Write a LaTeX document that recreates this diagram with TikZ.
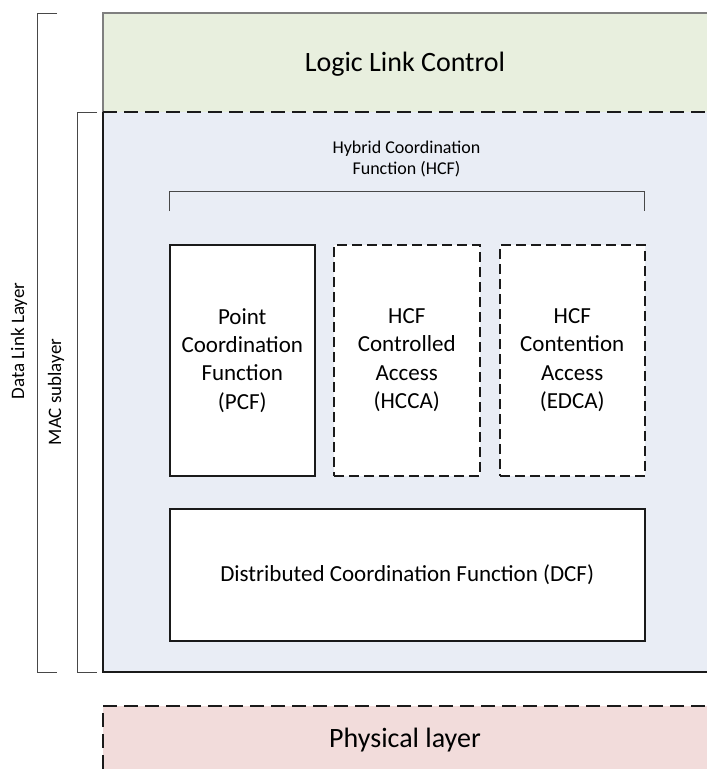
\documentclass[tikz,border=0pt]{standalone}
\usepackage{fontspec}
\setmainfont{Carlito}
\definecolor{llcfill}{HTML}{E8EFDE}
\definecolor{macfill}{HTML}{E9EDF5}
\definecolor{phyfill}{HTML}{F2DCDB}
\definecolor{edge}{HTML}{1A1A1A}
\definecolor{rule}{HTML}{7F7F7F}
\tikzset{
  layerfill/.style={inner sep=0pt, outer sep=0pt, anchor=north west, draw=none},
  layerdash/.style={draw=edge, line width=1.5pt, dash pattern=on 14pt off 7pt},
  funcbox/.style={draw=edge, line width=1.5pt, fill=white, inner sep=0pt,
    anchor=north west, align=center, font=\fontsize{23}{28.3}\selectfont},
  dashbox/.style={funcbox, dash pattern=on 10pt off 5pt},
  bracketline/.style={draw=edge!80, line width=1pt},
  sidelabel/.style={rotate=90, font=\fontsize{19}{23}\selectfont},
  bandtext/.style={font=\fontsize{28}{33}\selectfont},
}
\begin{document}
\begin{tikzpicture}[x=1pt, y=-1pt]
\useasboundingbox (0,0) rectangle (707,769);

% layer bands
\node[layerfill, fill=llcfill, minimum width=604pt, minimum height=99pt] (llc) at (103,13) {};
\node[layerfill, fill=macfill, minimum width=604pt, minimum height=560pt] (mac) at (103,112) {};
\node[layerfill, fill=phyfill, minimum width=604pt, minimum height=63pt] (phy) at (103,706) {};
\node[bandtext] (llct) at ([yshift=-1.5pt]llc.center) {Logic Link Control};
\node[bandtext] (phyt) at ([yshift=-2.5pt]phy.center) {Physical layer};

% band borders
\draw[rule, line width=1.2pt] (llc.south west) -- (llc.north west) -- (llc.north east);
\draw[edge, line width=1.5pt] (mac.north west) -- (mac.south west) -- (mac.south east);
\draw[layerdash] (llc.south west) -- (llc.south east);
\draw[layerdash] (phy.south west) -- (phy.north west) -- (phy.north east);

% functions inside the MAC sublayer
\node[funcbox, minimum width=145pt, minimum height=231pt] (pcf) at (169,244)
  {Point\\Coordination\\Function\\(PCF)};
\node[dashbox, minimum width=146pt, minimum height=231pt] (hcca) at (333,244)
  {HCF\\Controlled\\Access\\(HCCA)};
\node[dashbox, minimum width=145pt, minimum height=231pt] (edca) at (499,244)
  {HCF\\Contention\\Access\\(EDCA)};
\node[funcbox, minimum width=475pt, minimum height=132pt] (dcf) at (169,508)
  {Distributed Coordination Function (DCF)};

% HCF grouping bracket
\coordinate (hcfL) at (169,191);
\coordinate (hcfR) at (644,191);
\draw[bracketline] ([yshift=-20pt]hcfL) -- (hcfL) -- (hcfR) -- ([yshift=-20pt]hcfR);
\node[align=center, font=\fontsize{18}{21.5}\selectfont] (hcf) at (406.5,159)
  {Hybrid Coordination\\Function (HCF)};

% layer brackets on the left
\coordinate (dlTop) at (57,13);
\coordinate (dlBot) at (57,672);
\draw[bracketline] (dlTop) -- (37,13) -- (37,672) -- (dlBot);
\node[sidelabel] (dll) at (19,341) {Data Link Layer};

\coordinate (macTop) at (97,112);
\coordinate (macBot) at (97,672);
\draw[bracketline] (macTop) -- (77,112) -- (77,672) -- (macBot);
\node[sidelabel] (macl) at (56,392) {MAC sublayer};
\end{tikzpicture}
\end{document}
